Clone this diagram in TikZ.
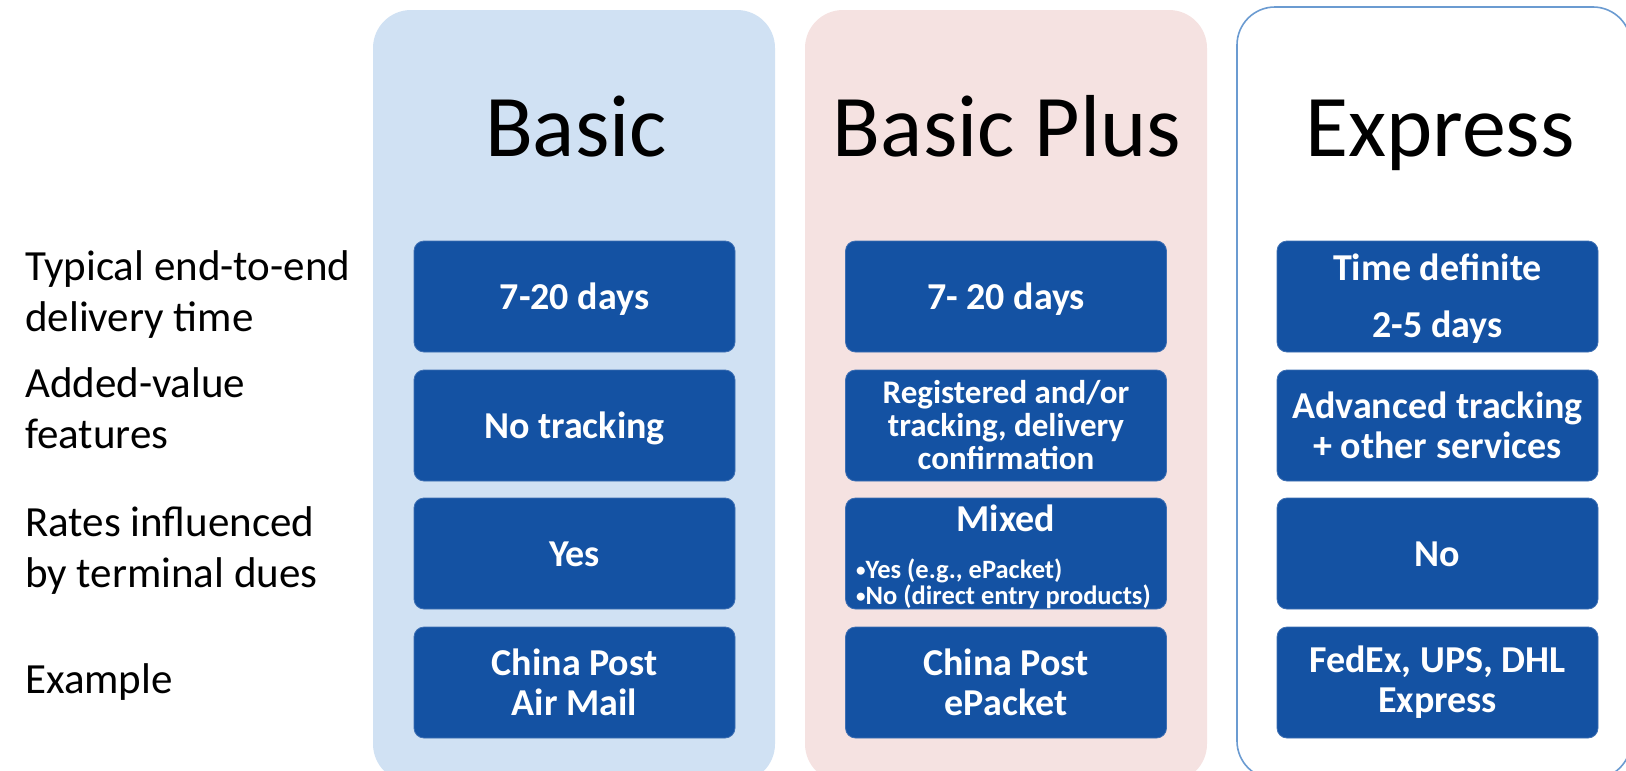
\documentclass[tikz,border=0pt]{standalone}
\usepackage{fontspec}
\setmainfont{Carlito}
\definecolor{boxblue}{HTML}{1452A3}
\definecolor{boxedge}{HTML}{3E6FB3}
\definecolor{basicbg}{HTML}{D0E1F3}
\definecolor{plusbg}{HTML}{F5E2E1}
\definecolor{expborder}{HTML}{6B9BD1}
\newcommand{\smallbul}{\raisebox{2pt}{\fontsize{19}{19}\selectfont •}}
\tikzset{
  panel/.style={rounded corners=38pt, inner sep=0pt, minimum width=402pt, minimum height=772pt},
  cell/.style={rounded corners=10pt, fill=boxblue, draw=boxedge, line width=0.8pt,
    minimum width=321pt, minimum height=111pt, inner sep=0pt, text=white, align=center,
    font=\bfseries\fontsize{38}{40}\selectfont},
  onecell/.style={cell, text height=30pt, text depth=5pt},
  midcell/.style={cell, font=\bfseries\fontsize{33}{33}\selectfont},
  title/.style={font=\fontsize{88}{100}\selectfont, anchor=base},
  rowlabel/.style={font=\fontsize{43}{51}\selectfont, align=left, anchor=base west, inner sep=0pt},
}
\begin{document}
\begin{tikzpicture}[x=1pt,y=-1pt]
\useasboundingbox (0,0) rectangle (1626,771);
\clip (0,0) rectangle (1626,771);
% panels
\node[panel, fill=basicbg] (pbasic) at (574,396) {};
\node[panel, fill=plusbg] (pplus) at (1006,396) {};
\node[panel, draw=expborder, line width=1.6pt, fill=white, minimum width=394pt] (pexp) at (1434,393) {};
% titles
\node[title] (tbasic) at (576,156) {Basic};
\node[title] (tplus) at (1007,156) {Basic Plus};
\node[title] (texp) at (1440,156) {Express};
% row labels (anchor = baseline of last line)
\node[rowlabel] (l1) at (25,331) {Typical end-to-end\\delivery time};
\node[rowlabel] (l2) at (25,448) {Added-value\\features};
\node[rowlabel] (l3) at (25,587) {Rates influenced\\by terminal dues};
\node[rowlabel] (l4) at (25,693) {Example};
% Basic column
\node[onecell] (b1) at (574.5,296.5) {7-20 days};
\node[onecell] (b2) at (574.5,425.5) {No tracking};
\node[onecell] (b3) at (574.5,553.5) {Yes};
\node[cell] (b4) at (574.5,682.5) {China Post\\Air Mail};
% Basic Plus column
\node[onecell] (p1) at (1006,296.5) {7- 20 days};
\node[midcell] (p2) at (1006,425.5) {Registered and/or\\tracking, delivery\\confirmation};
\node[cell] (p3) at (1006,553.5) {};
\node[text=white, font=\bfseries\fontsize{38}{40}\selectfont, anchor=base, inner sep=0pt] (p3a) at (1006,531.7) {Mixed};
\node[text=white, font=\bfseries\fontsize{26.5}{26}\selectfont, anchor=base west, align=left, inner sep=0pt] (p3b) at (856,604) {\smallbul Yes (e.g., ePacket)\\\smallbul No (direct entry products)};
\node[cell] (p4) at (1006,682.5) {China Post\\ePacket};
% Express column
\node[cell, text depth=1.5pt] (e1) at (1437.5,296.5) {Time definite\\[17pt]2-5 days};
\node[cell] (e2) at (1437.5,425.5) {Advanced tracking\\+ other services};
\node[onecell] (e3) at (1437.5,553.5) {No};
\node[cell] (e4) at (1437.5,682.5) {FedEx, UPS, DHL\\Express};
\end{tikzpicture}
\end{document}
